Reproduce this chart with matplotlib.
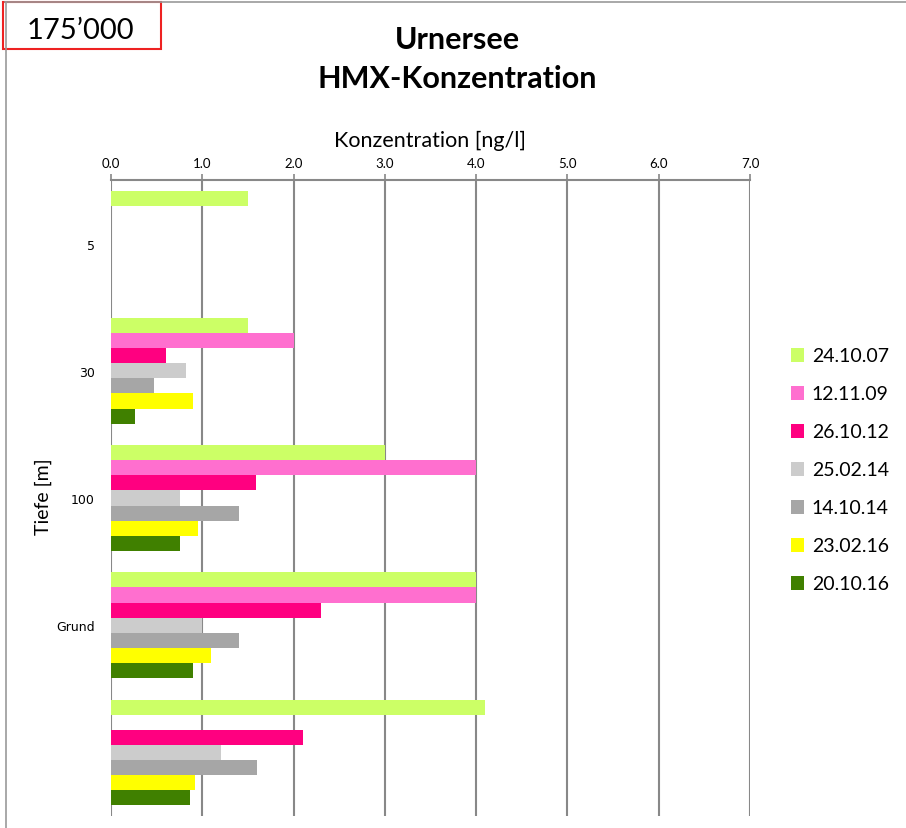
import numpy as np
import matplotlib
matplotlib.use("Agg")
import matplotlib.pyplot as plt
from matplotlib.patches import Rectangle

# Depth categories (last group has no label in the original)
depths = ['5', '30', '100', 'Grund', '']
dates = ['24.10.07', '12.11.09', '26.10.12', '25.02.14', '14.10.14', '23.02.16', '20.10.16']
colors = ['#CCFF66', '#FF6FCF', '#FF0080', '#CCCCCC', '#A6A6A6', '#FFFF00', '#408000']

# HMX concentration [ng/l], one list per sampling date (nan = no value)
hmx_241007 = [1.5, 1.5, 3.0, 4.0, 4.1]
hmx_121109 = [np.nan, 2.0, 4.0, 4.0, np.nan]
hmx_261012 = [np.nan, 0.6, 1.59, 2.3, 2.1]
hmx_250214 = [np.nan, 0.82, 0.76, 1.0, 1.2]
hmx_141014 = [np.nan, 0.47, 1.4, 1.4, 1.6]
hmx_230216 = [np.nan, 0.9, 0.95, 1.1, 0.92]
hmx_201016 = [np.nan, 0.26, 0.76, 0.9, 0.87]
series = [hmx_241007, hmx_121109, hmx_261012, hmx_250214, hmx_141014, hmx_230216, hmx_201016]

plt.rcParams['font.family'] = ['Lato', 'DejaVu Sans']

W, H = 906, 829
fig = plt.figure(figsize=(W / 100, H / 100), dpi=100)
ax = fig.add_axes([111 / W, 1 - 817 / H, (750 - 111) / W, (817 - 181) / H])

# Grouped horizontal bars, first series on top of each group
n = len(series)
group_w = 0.83
bar_h = group_w / n
y = np.arange(len(depths))
handles = []
for j, (vals, c, lab) in enumerate(zip(series, colors, dates)):
    pos = y - group_w / 2 + (j + 0.5) * bar_h
    b = ax.barh(pos, vals, height=bar_h, color=c, label=lab, zorder=3)
    handles.append(b)

ax.set_ylim(len(depths) - 0.5, -0.5)
ax.set_xlim(0, 7)
ax.set_yticks(y)
ax.set_yticklabels(depths, family='DejaVu Sans', fontsize=9)
ax.tick_params(axis='y', length=0, pad=11.5)

ax.xaxis.tick_top()
ax.xaxis.set_label_position('top')
ax.set_xticks(range(8))
ax.set_xticklabels([f'{v:.1f}' for v in range(8)], fontsize=9.5)
ax.tick_params(axis='x', length=4, width=1.2, color='#888888', pad=4)
ax.set_xlabel('Konzentration [ng/l]', fontsize=15.5, labelpad=8)
ax.set_ylabel('Tiefe [m]', fontsize=14)
ax.yaxis.set_label_coords((52 - 111) / 639, 1 - (497 - 181) / 636)

ax.grid(axis='x', color='#888888', linewidth=1.5, zorder=1)
for s in ['right', 'bottom', 'left']:
    ax.spines[s].set_visible(False)
ax.spines['top'].set_color('#888888')
ax.spines['top'].set_linewidth(1.5)

fig.legend(handles=handles, loc='center left', bbox_to_anchor=(773 / W, 1 - 471 / H),
           frameon=False, fontsize=14, handlelength=0.7, handleheight=0.7,
           handletextpad=0.4, labelspacing=1.08)

# Titles
fig.text(457 / W, 1 - 40 / H, 'Urnersee', ha='center', va='center',
         fontsize=22, fontweight='bold')
fig.text(457 / W, 1 - 79 / H, 'HMX-Konzentration', ha='center', va='center',
         fontsize=22, fontweight='bold')

# chart frame (top and left edges) and the red id box
fig.add_artist(plt.Line2D([5 / W, 1], [1 - 3 / H, 1 - 3 / H], color='#999999', lw=1.2))
fig.add_artist(plt.Line2D([6 / W, 6 / W], [0, 1 - 3 / H], color='#999999', lw=1.2))
fig.add_artist(Rectangle((3 / W, 1 - 50 / H), 158 / W, 47 / H, transform=fig.transFigure,
                         facecolor='white', edgecolor='#EE2222', lw=1.5))
fig.text(80 / W, 1 - 31 / H, '175\u2019000', ha='center', va='center', fontsize=21)

fig.savefig('out.png', dpi=100)
